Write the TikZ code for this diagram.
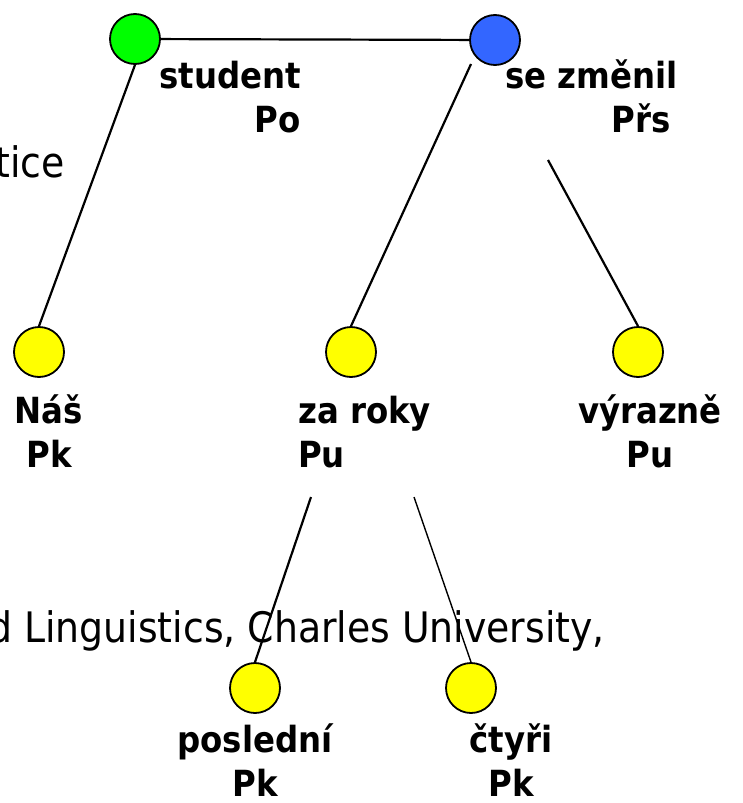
\documentclass[tikz,border=0pt]{standalone}
\usepackage{fontspec}
\setmainfont{DejaVu Sans Condensed}
\definecolor{nodegreen}{RGB}{0,255,0}
\definecolor{nodeblue}{RGB}{51,102,255}
\definecolor{nodeyellow}{RGB}{255,255,0}
\tikzset{
    word/.style={circle, draw=black, line width=1.8pt, minimum size=50pt, inner sep=0pt},
    tag/.style={font=\fontsize{36}{44}\selectfont\bfseries, inner sep=0pt},
    slide/.style={font=\fontsize{42}{50}\selectfont, inner sep=0pt},
    edge/.style={line width=2.2pt},
    thinedge/.style={line width=1.4pt}
}
\begin{document}
\begin{tikzpicture}[x=1pt, y=-1pt]
    \useasboundingbox (0,0) rectangle (742,803);
    \clip (0,0) rectangle (742,803);

    % Slide text behind the tree
    \node[slide, anchor=base east] (tice) at (65,177) {tice};
    \node[slide, anchor=base east] (univ) at (605,642) {d Linguistics, Charles University,};

    % Tree nodes
    \node[word, fill=nodegreen] (student) at (135,39) {};
    \node[word, fill=nodeblue] (zmenil) at (495,40) {};
    \node[word, fill=nodeyellow] (nas) at (39,352) {};
    \node[word, fill=nodeyellow] (zaroky) at (351,352) {};
    \node[word, fill=nodeyellow] (vyrazne) at (638,352) {};
    \node[word, fill=nodeyellow] (posledni) at (255,688) {};
    \node[word, fill=nodeyellow] (ctyri) at (471,688) {};

    % Loose ends of the edges
    \coordinate (zmenil-l) at (471,64);
    \coordinate (zmenil-r) at (548,160);
    \coordinate (zaroky-l) at (311,497);
    \coordinate (zaroky-r) at (414,497);

    % Edges
    \draw[edge] (student) -- (zmenil);
    \draw[edge] (student.south) -- (nas.north);
    \draw[edge] (zmenil-l) -- (zaroky.north);
    \draw[edge] (zmenil-r) -- (vyrazne.north);
    \draw[edge] (zaroky-l) -- (posledni.north);
    \draw[thinedge] (zaroky-r) -- (ctyri.north);

    % Labels (base = last line)
    \node[tag, align=right, anchor=base east] (student-tag) at (301,132) {student\\Po};
    \node[tag, align=right, anchor=base west] (zmenil-tag) at (505,132) {se změnil\\Přs\kern7pt};
    \node[tag, align=center, anchor=base] (nas-tag) at (49,467) {Náš\\Pk};
    \node[tag, align=left, anchor=base west] (zaroky-tag) at (298,467) {za roky\\Pu};
    \node[tag, align=center, anchor=base] (vyrazne-tag) at (650,467) {výrazně\\Pu};
    \node[tag, align=center, anchor=base] (posledni-tag) at (255,796) {poslední\\Pk};
    \node[tag, align=center, anchor=base] (ctyri-tag) at (511,796) {čtyři\\Pk};
\end{tikzpicture}
\end{document}
